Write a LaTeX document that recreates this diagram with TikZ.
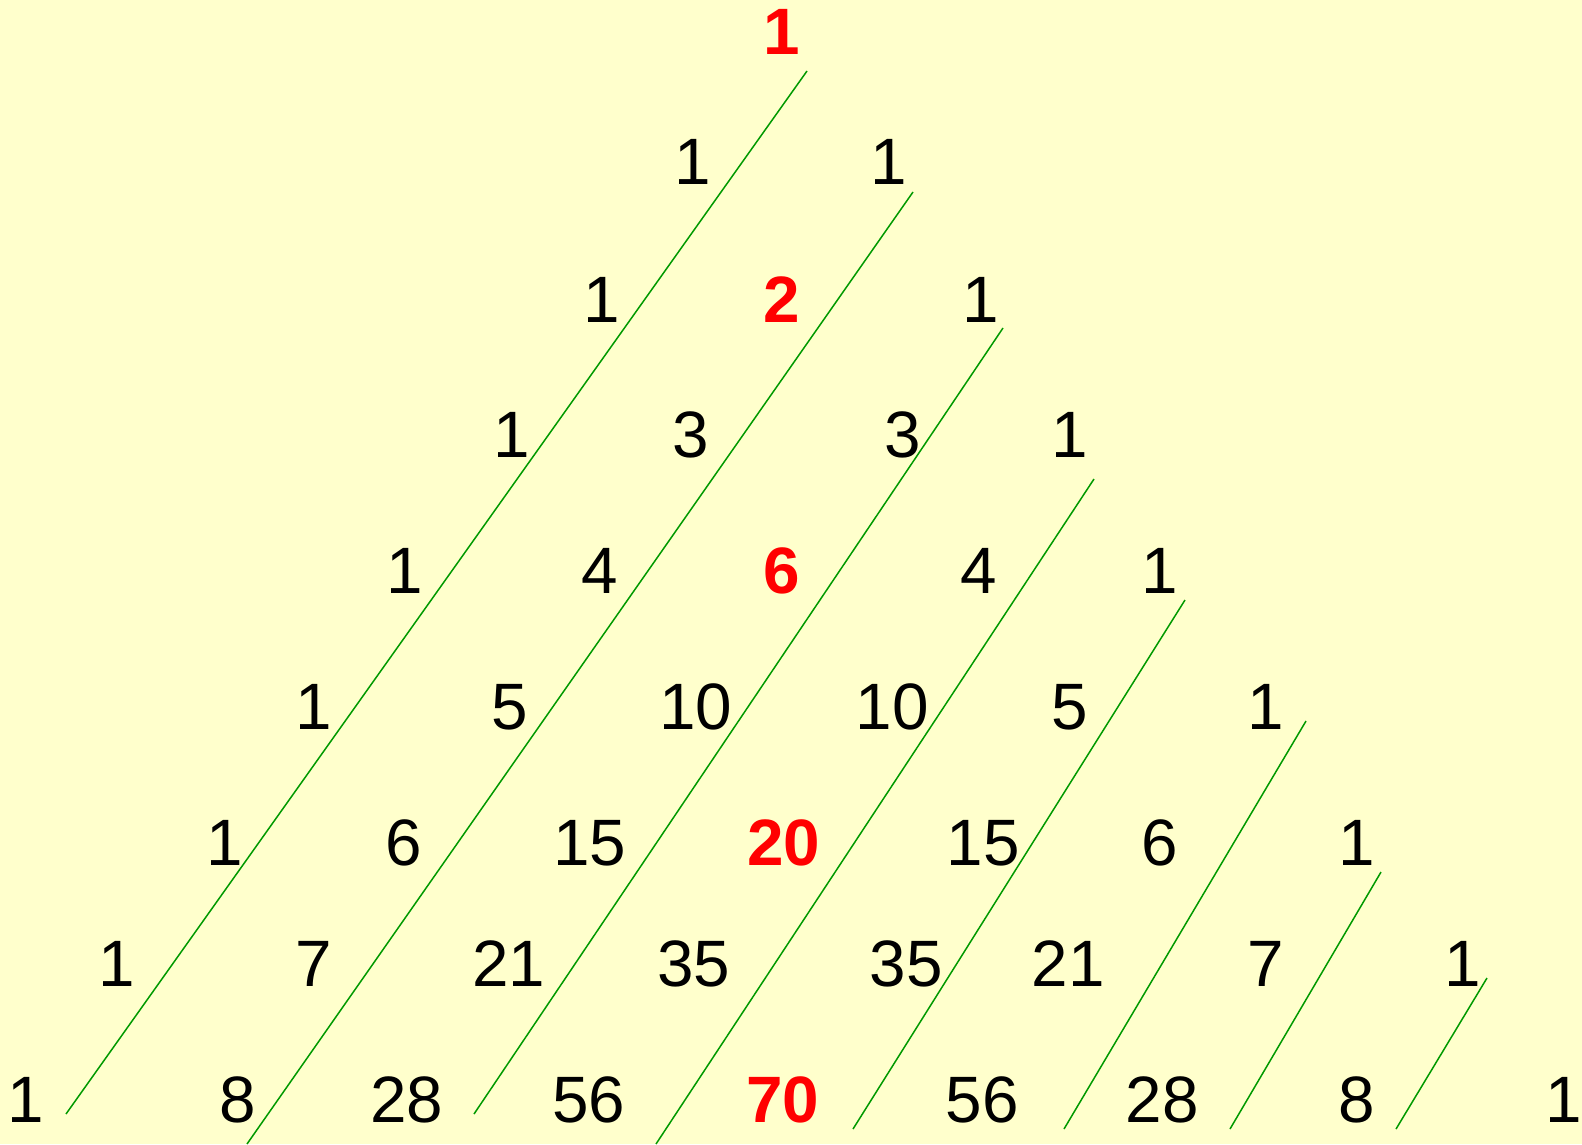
\documentclass[tikz,border=0pt]{standalone}
\usepackage{fontspec}
\setmainfont{Liberation Sans}
\definecolor{bgyellow}{RGB}{255,255,204}
\definecolor{diaggreen}{RGB}{0,153,0}
\tikzset{
  num/.style={inner sep=0pt, font=\fontsize{65.6}{70}\selectfont},
  mid/.style={num, text=red, font=\fontsize{65.6}{70}\selectfont\bfseries},
  diag/.style={draw=diaggreen, line width=1.5pt}
}

\begin{document}
\begin{tikzpicture}[x=1pt, y=-1pt]
\fill[bgyellow] (0,0) rectangle (1582,1144);
\useasboundingbox (0,0) rectangle (1582,1144);
% row 0 to row 8
\node[mid] (n00) at (782,32) {1};
\node[num] (n10) at (693,162) {1};
\node[num] (n11) at (889,162) {1};
\node[num] (n20) at (602,300) {1};
\node[mid] (n21) at (782,300) {2};
\node[num] (n22) at (981,300) {1};
\node[num] (n30) at (512,435) {1};
\node[num] (n31) at (691,435) {3};
\node[num] (n32) at (903,435) {3};
\node[num] (n33) at (1070,435) {1};
\node[num] (n40) at (405,571) {1};
\node[num] (n41) at (600,571) {4};
\node[mid] (n42) at (782,571) {6};
\node[num] (n43) at (979,571) {4};
\node[num] (n44) at (1160,571) {1};
\node[num] (n50) at (314,707) {1};
\node[num] (n51) at (510,707) {5};
\node[num] (n52) at (696,707) {10};
\node[num] (n53) at (892,707) {10};
\node[num] (n54) at (1070,707) {5};
\node[num] (n55) at (1266,707) {1};
\node[num] (n60) at (225,843) {1};
\node[num] (n61) at (404,843) {6};
\node[num] (n62) at (590,843) {15};
\node[mid] (n63) at (784,843) {20};
\node[num] (n64) at (983,843) {15};
\node[num] (n65) at (1160,843) {6};
\node[num] (n66) at (1357,843) {1};
\node[num] (n70) at (117,964) {1};
\node[num] (n71) at (314,964) {7};
\node[num] (n72) at (509,964) {21};
\node[num] (n73) at (694,964) {35};
\node[num] (n74) at (906,964) {35};
\node[num] (n75) at (1068,964) {21};
\node[num] (n76) at (1266,964) {7};
\node[num] (n77) at (1463,964) {1};
\node[num] (n80) at (26,1100) {1};
\node[num] (n81) at (238,1100) {8};
\node[num] (n82) at (407,1100) {28};
\node[num] (n83) at (589,1100) {56};
\node[mid] (n84) at (783,1100) {70};
\node[num] (n85) at (982,1100) {56};
\node[num] (n86) at (1162,1100) {28};
\node[num] (n87) at (1357,1100) {8};
\node[num] (n88) at (1564,1100) {1};
% diagonals
\coordinate (top1) at (807,71);
\coordinate (bot1) at (66,1114);
\coordinate (top2) at (913,192);
\coordinate (bot2) at (247,1144);
\coordinate (top3) at (1003,328);
\coordinate (bot3) at (474,1114);
\coordinate (top4) at (1094,479);
\coordinate (bot4) at (656,1144);
\coordinate (top5) at (1185,600);
\coordinate (bot5) at (853,1129);
\coordinate (top6) at (1306,721);
\coordinate (bot6) at (1064,1129);
\coordinate (top7) at (1381,872);
\coordinate (bot7) at (1230,1129);
\coordinate (top8) at (1487,978);
\coordinate (bot8) at (1396,1129);
\draw[diag] (top1) -- (bot1);
\draw[diag] (top2) -- (bot2);
\draw[diag] (top3) -- (bot3);
\draw[diag] (top4) -- (bot4);
\draw[diag] (top5) -- (bot5);
\draw[diag] (top6) -- (bot6);
\draw[diag] (top7) -- (bot7);
\draw[diag] (top8) -- (bot8);
\end{tikzpicture}
\end{document}
